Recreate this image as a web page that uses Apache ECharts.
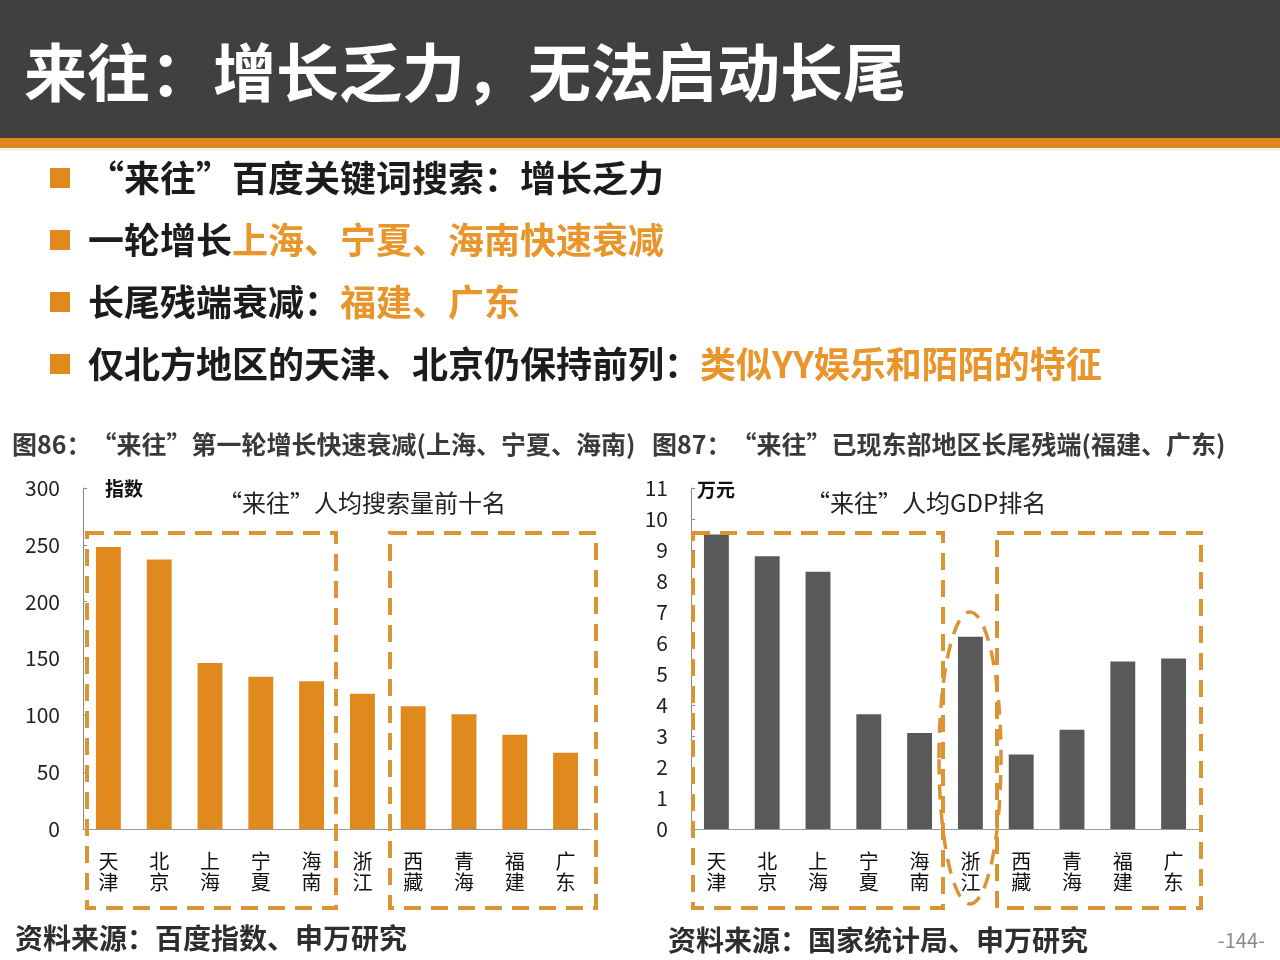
<!DOCTYPE html>
<html>
<head>
<meta charset="utf-8">
<script src="https://cdn.jsdelivr.net/npm/echarts@6/dist/echarts.min.js"></script>
<style>
html,body{margin:0;padding:0;background:#fff;}
#c{width:1280px;height:960px;}
</style>
</head>
<body>
<div id="c"></div>
<script>
// ---- data ----
const categories = ['天津','北京','上海','宁夏','海南','浙江','西藏','青海','福建','广东'];
const searchIndex = [248, 237, 146, 134, 130, 119, 108, 101, 83, 67];
const gdpPerCapita = [9.5, 8.8, 8.3, 3.7, 3.1, 6.2, 2.4, 3.2, 5.4, 5.5];
const leftTicks = [0, 50, 100, 150, 200, 250, 300];
const rightTicks = [0, 1, 2, 3, 4, 5, 6, 7, 8, 9, 10, 11];

const FONT = '"Noto Sans CJK SC", "Noto Sans", sans-serif';
const ORANGE = '#E08A1E';
const HL = '#E8962C';
const BOX = '#DA9434';
const DARK = '#1c1c1c';

const chart = echarts.init(document.getElementById('c'), null, {renderer: 'canvas'});

function catLabel(v){ return v.split('').join('\n'); }

function yAxisCfg(gi, ticks){
  return {
    type: 'value', gridIndex: gi,
    min: ticks[0], max: ticks[ticks.length - 1], interval: ticks[1] - ticks[0],
    axisLine: {show: true, lineStyle: {color: '#8a8a8a', width: 1}},
    axisTick: {show: true, inside: true, length: 4, lineStyle: {color: '#8a8a8a'}},
    splitLine: {show: false},
    axisLabel: {fontSize: 21, color: '#222', margin: 23, fontFamily: FONT}
  };
}
function xAxisCfg(gi){
  return {
    type: 'category', gridIndex: gi, data: categories,
    axisLine: {show: true, lineStyle: {color: '#9a9a9a', width: 1}},
    axisTick: {show: false},
    axisLabel: {interval: 0, fontSize: 20, lineHeight: 21, color: '#111', margin: 22,
      fontFamily: FONT, formatter: catLabel}
  };
}

function bullet(y, parts){
  let txt = '';
  parts.forEach(p => { txt += '{' + p[0] + '|' + p[1] + '}'; });
  return [
    {type: 'rect', shape: {x: 50, y: y - 10, width: 20, height: 20}, style: {fill: ORANGE}},
    {type: 'text', x: 88, y: y, style: {
      text: txt, verticalAlign: 'middle', align: 'left',
      rich: {
        k: {fill: DARK, fontSize: 36, fontWeight: 'bold', fontFamily: FONT},
        o: {fill: HL, fontSize: 36, fontWeight: 'bold', fontFamily: FONT}
      }
    }}
  ];
}

function txt(x, y, s, size, color, weight, align){
  return {type: 'text', x: x, y: y, style: {
    text: s, fill: color, fontSize: size, fontWeight: weight || 'normal',
    fontFamily: FONT, align: align || 'left', verticalAlign: 'middle'
  }};
}

function dashRect(x1, y1, x2, y2){
  return {type: 'rect', z: 10, shape: {x: x1, y: y1, width: x2 - x1, height: y2 - y1},
    style: {fill: 'none', stroke: BOX, lineWidth: 4, lineDash: [17, 10]}};
}

const graphics = [
  {type: 'rect', z: -1, shape: {x: 0, y: 0, width: 1280, height: 138}, style: {fill: '#404040'}},
  {type: 'rect', z: -1, shape: {x: 0, y: 138, width: 1280, height: 10}, style: {fill: '#DF8620'}},
  {type: 'rect', z: -1, shape: {x: 0, y: 148, width: 1280, height: 3}, style: {fill: '#FBF3DC'}},
  txt(24, 72, '来往：增长乏力，无法启动长尾', 63, '#ffffff', 'bold'),
  ...bullet(178, [['k', '“来往”百度关键词搜索：增长乏力']]),
  ...bullet(240, [['k', '一轮增长'], ['o', '上海、宁夏、海南快速衰减']]),
  ...bullet(302, [['k', '长尾残端衰减：'], ['o', '福建、广东']]),
  ...bullet(364, [['k', '仅北方地区的天津、北京仍保持前列：'], ['o', '类似YY娱乐和陌陌的特征']]),
  txt(12, 444, '图86：“来往”第一轮增长快速衰减(上海、宁夏、海南)', 25, '#3a3a3a', 'bold'),
  txt(652, 444, '图87：“来往”已现东部地区长尾残端(福建、广东)', 25, '#3a3a3a', 'bold'),
  txt(105, 489, '指数', 19, '#111', 'bold'),
  txt(697, 490, '万元', 19, '#111', 'bold'),
  txt(218, 503, '“来往”人均搜索量前十名', 24, '#222', 'normal'),
  txt(806, 503, '“来往”人均GDP排名', 24, '#222', 'normal'),
  txt(15, 938, '资料来源：百度指数、申万研究', 28, '#2e2e2e', 'bold'),
  txt(668, 940, '资料来源：国家统计局、申万研究', 28, '#2e2e2e', 'bold'),
  txt(1265, 940, '-144-', 20, '#8a8a8a', 'normal', 'right'),
  dashRect(87, 533, 336, 908),
  dashRect(390, 533, 596, 908),
  dashRect(693, 533, 943, 908),
  dashRect(997, 533, 1201, 908),
  {type: 'ellipse', z: 10, shape: {cx: 970, cy: 758, rx: 31, ry: 146},
    style: {fill: 'none', stroke: BOX, lineWidth: 3.5, lineDash: [15, 10]}}
];

chart.setOption({
  animation: false,
  backgroundColor: '#ffffff',
  textStyle: {fontFamily: FONT},
  grid: [
    {left: 83, top: 488, width: 508, height: 341},
    {left: 691, top: 488, width: 508, height: 341}
  ],
  xAxis: [xAxisCfg(0), xAxisCfg(1)],
  yAxis: [yAxisCfg(0, leftTicks), yAxisCfg(1, rightTicks)],
  series: [
    {type: 'bar', xAxisIndex: 0, yAxisIndex: 0, data: searchIndex, barWidth: '49%',
      itemStyle: {color: ORANGE}},
    {type: 'bar', xAxisIndex: 1, yAxisIndex: 1, data: gdpPerCapita, barWidth: '49%',
      itemStyle: {color: '#595959'}}
  ],
  graphic: graphics
});
</script>
</body>
</html>
